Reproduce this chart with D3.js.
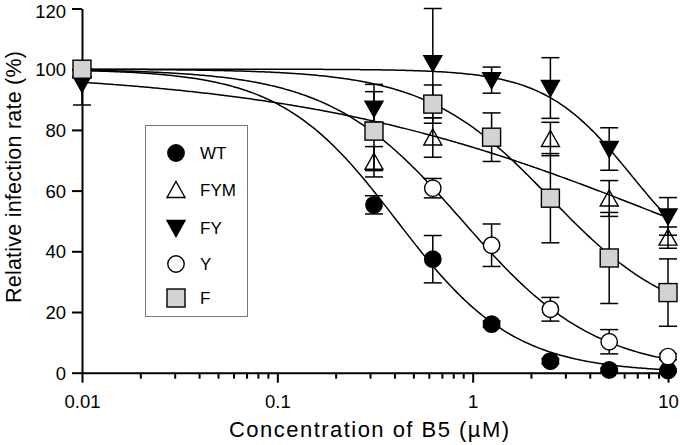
<!DOCTYPE html>
<html>
<head>
<meta charset="utf-8">
<script src="https://cdn.jsdelivr.net/npm/d3@7"></script>
<style>
  html, body { margin: 0; padding: 0; background: #fff; }
  svg { display: block; font-family: "Liberation Sans", Arial, sans-serif; }
</style>
</head>
<body>
<svg id="chart" width="680" height="445"></svg>
<script>
// ---- data ----
const concentrations = [0.01, 0.3125, 0.625, 1.25, 2.5, 5, 10];
const seriesNames = ["WT", "FYM", "FY", "Y", "F"];

const wtValues  = [100, 55.3, 37.4, 16.0, 3.8, 0.9, 0.7];
const wtErrors  = [0, 3, 7.8, 1, 0.8, 0.5, 0.5];
const fymValues = [100, 69.5, 77.5, null, 77, 57.4, 44.5];
const fymErrors = [0, 5, 6.5, null, 5.5, 5.9, 3.5];
const fyValues  = [95.2, 87, 102, 96.4, 93.8, 73.7, 51.5];
const fyErrors  = [7, 8, 18, 4.3, 10, 7, 6.2];
const yValues   = [100, 80, 60.8, 42, 20.9, 10.2, 5.3];
const yErrors   = [0, 2.5, 3.2, 7, 3.9, 4, 1];
const fValues   = [100, 79.6, 88.5, 77.6, 57.5, 37.8, 26.4];
const fErrors   = [0, 13, 6.3, 8, 14.7, 15, 11.1];

// fitted dose-response (4-parameter logistic) parameters per series
const fitTop    = [100, 100, 100, 100, 100];
const fitBottom = [0, 0, 30, 0, 15];
const fitIC50   = [0.41, 10.96, 6.5, 0.888, 2.5];
const fitHill   = [1.45, 0.443, 1.95, 1.27, 1.35];

const xTickValues = [0.01, 0.1, 1, 10];
const xTickLabels = ["0.01", "0.1", "1", "10"];
const yTickValues = [0, 20, 40, 60, 80, 100, 120];

const xTitle = "Concentration of B5 (\u00b5M)";
const yTitle = "Relative infection rate (%)";

// ---- setup ----
const svg = d3.select("#chart");
const x = d3.scaleLog().domain([0.01, 10]).range([82, 668]);
const y = d3.scaleLinear().domain([0, 120]).range([372.7, 8.5]);

const valuesBySeries = [wtValues, fymValues, fyValues, yValues, fValues];
const errorsBySeries = [wtErrors, fymErrors, fyErrors, yErrors, fErrors];

const markerStyle = {
  WT:  { shape: "circle", fill: "#000" },
  FYM: { shape: "up", fill: "none" },
  FY:  { shape: "down", fill: "#000" },
  Y:   { shape: "circle", fill: "#fff" },
  F:   { shape: "square", fill: "#d3d3d3" }
};

function drawMarker(g, name, cx, cy) {
  const st = markerStyle[name];
  let el;
  if (st.shape === "circle") {
    el = g.append("circle").attr("cx", cx).attr("cy", cy).attr("r", 8.2);
  } else if (st.shape === "square") {
    el = g.append("rect").attr("x", cx - 9).attr("y", cy - 9).attr("width", 18).attr("height", 18);
  } else if (st.shape === "up") {
    el = g.append("path").attr("d", `M${cx},${cy - 8.5}L${cx + 9},${cy + 7.5}L${cx - 9},${cy + 7.5}Z`);
  } else {
    el = g.append("path").attr("d", `M${cx - 9},${cy - 7.5}L${cx + 9},${cy - 7.5}L${cx},${cy + 8.5}Z`);
  }
  el.attr("fill", st.fill).attr("stroke", "#000").attr("stroke-width", 1.4);
}

// ---- axes ----
const xAxis = d3.axisBottom(x)
  .tickValues(xTickValues)
  .tickFormat((d, i) => xTickLabels[i])
  .tickSize(10)
  .tickSizeOuter(0);
const minorX = [];
[0.01, 0.1, 1].forEach(dec => { for (let k = 2; k <= 9; k++) minorX.push(dec * k); });

const gx = svg.append("g").attr("transform", `translate(0,${y(0)})`).call(xAxis);
gx.append("g").selectAll("line").data(minorX).join("line")
  .attr("x1", d => x(d)).attr("x2", d => x(d)).attr("y1", 0).attr("y2", 6)
  .attr("stroke", "#000").attr("stroke-width", 2);
gx.select(".domain").attr("stroke-width", 2);
gx.selectAll(".tick line").attr("stroke-width", 2);
gx.selectAll(".tick text").attr("font-size", 18.5).attr("fill", "#000")
  .attr("font-family", "'Liberation Sans', Arial, sans-serif").attr("dy", 0).attr("y", 35);

const yAxis = d3.axisLeft(y).tickValues(yTickValues).tickSize(10).tickSizeOuter(0);
const gy = svg.append("g").attr("transform", `translate(${x(0.01)},0)`).call(yAxis);
gy.select(".domain").attr("stroke-width", 2);
gy.selectAll(".tick line").attr("stroke-width", 2);
gy.selectAll(".tick text").attr("font-size", 18.5).attr("fill", "#000")
  .attr("font-family", "'Liberation Sans', Arial, sans-serif").attr("x", -16)
  .attr("dy", d => d === 120 ? "0.47em" : "0.35em");

svg.append("text").attr("x", 369).attr("y", 437).attr("text-anchor", "middle")
  .attr("font-size", 22).attr("textLength", 280).attr("lengthAdjust", "spacing").text(xTitle);
svg.append("text").attr("transform", "translate(20.5,177) rotate(-90)").attr("text-anchor", "middle")
  .attr("font-size", 21.5).attr("textLength", 252).attr("lengthAdjust", "spacing").text(yTitle);

// ---- fitted curves ----
const curveX = d3.range(0, 301).map(i => Math.pow(10, -2 + 3 * i / 300));
const line = d3.line().x(d => x(d[0])).y(d => y(d[1]));
seriesNames.forEach((name, s) => {
  const pts = curveX.map(c => [c, fitBottom[s] + (fitTop[s] - fitBottom[s]) / (1 + Math.pow(c / fitIC50[s], fitHill[s]))]);
  svg.append("path").attr("d", line(pts)).attr("fill", "none")
    .attr("stroke", "#000").attr("stroke-width", 1.5);
});

// ---- error bars and markers ----
const gData = svg.append("g");
seriesNames.forEach((name, s) => {
  const vals = valuesBySeries[s], errs = errorsBySeries[s];
  const g = gData.append("g");
  concentrations.forEach((c, i) => {
    if (vals[i] == null) return;
    const e = errs[i] || 0;
    if (e > 0) {
      const cx = x(c), y1 = y(vals[i] - e), y2 = y(vals[i] + e);
      g.append("line").attr("x1", cx).attr("x2", cx).attr("y1", y1).attr("y2", y2)
        .attr("stroke", "#000").attr("stroke-width", 1.5);
      [y1, y2].forEach(yy => g.append("line").attr("x1", cx - 9).attr("x2", cx + 9)
        .attr("y1", yy).attr("y2", yy).attr("stroke", "#000").attr("stroke-width", 1.5));
    }
  });
  concentrations.forEach((c, i) => {
    if (vals[i] == null) return;
    drawMarker(g, name, x(c), y(vals[i]));
  });
});

// ---- legend ----
const legendY = [153, 190, 228, 264, 298];
svg.append("rect").attr("x", 145.5).attr("y", 125.5).attr("width", 102).attr("height", 191)
  .attr("fill", "#fff").attr("stroke", "#777").attr("stroke-width", 1);
seriesNames.forEach((name, s) => {
  const g = svg.append("g");
  drawMarker(g, name, 176, legendY[s]);
  g.append("text").attr("x", 200).attr("y", legendY[s]).attr("dy", "0.36em")
    .attr("font-size", 17).text(name);
});
</script>
</body>
</html>
